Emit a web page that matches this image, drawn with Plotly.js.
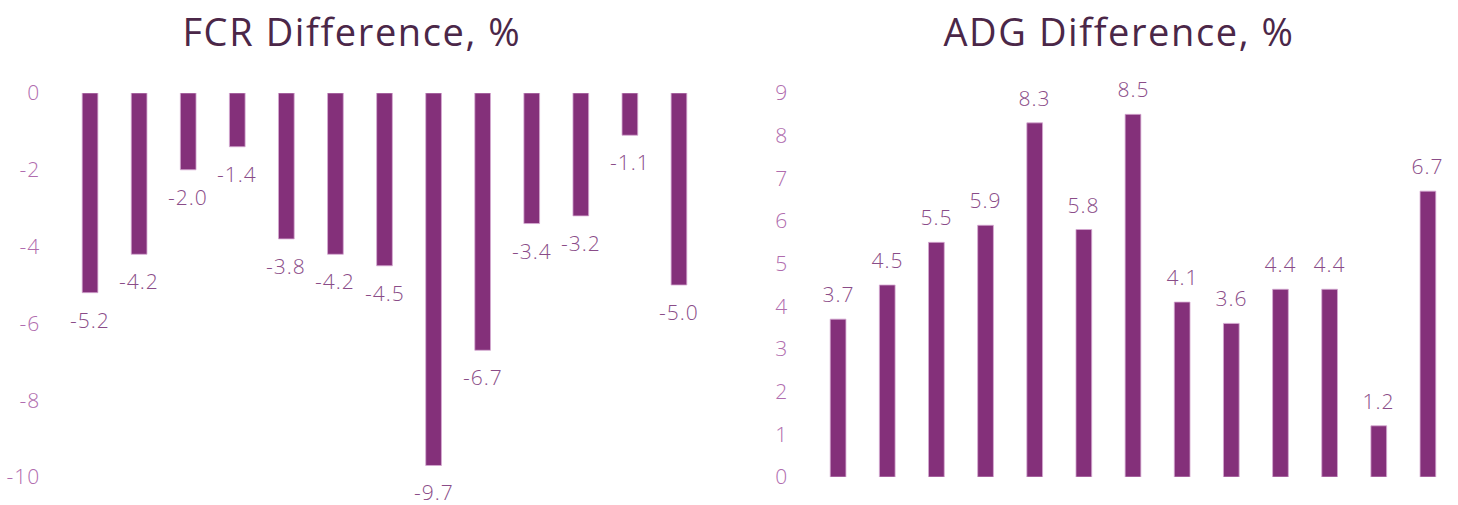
<!DOCTYPE html>
<html>
<head>
<meta charset="utf-8">
<script src="https://cdn.plot.ly/plotly-3.0.1.min.js"></script>
<style>
html,body{margin:0;padding:0;background:#fff;}
#chart{width:1458px;height:505px;}
#chart .ytick text, #chart .y2tick text, #chart .annotation-text{letter-spacing:1px;}
#chart .annotation.title-ann .annotation-text{letter-spacing:1.6px;}
</style>
</head>
<body>
<div id="chart"></div>
<script>
const categories = ["1","2","3","4","5","6","7","8","9","10","11","12","13"];
const fcrValues = [-5.2, -4.2, -2.0, -1.4, -3.8, -4.2, -4.5, -9.7, -6.7, -3.4, -3.2, -1.1, -5.0];
const adgValues = [3.7, 4.5, 5.5, 5.9, 8.3, 5.8, 8.5, 4.1, 3.6, 4.4, 4.4, 1.2, 6.7];
const fcrTicks = [0, -2, -4, -6, -8, -10];
const adgTicks = [0, 1, 2, 3, 4, 5, 6, 7, 8, 9];
const titles = ["FCR Difference, %", "ADG Difference, %"];

const W = 1458;
const PLOT_H = 384;
const barColor = "#84307a";
const barEdge = "#d6a9d2";
const tickColor = "#b06cae";
const labelColor = "#8a4c88";
const titleColor = "#4b2748";
const NUMFONT = "'Open Sans', Lato, sans-serif";
const TITLEFONT = "'Open Sans', Lato, sans-serif";

const traces = [
  {type: "bar", x: categories, y: fcrValues, xaxis: "x", yaxis: "y",
   marker: {color: barColor, line: {color: barEdge, width: 0.8}}, hoverinfo: "none"},
  {type: "bar", x: categories, y: adgValues, xaxis: "x2", yaxis: "y2",
   marker: {color: barColor, line: {color: barEdge, width: 0.8}}, hoverinfo: "none"}
];

const annotations = [];
fcrValues.forEach((v, i) => annotations.push({
  x: i, y: v, xref: "x", yref: "y", xanchor: "center", text: v.toFixed(1), showarrow: false,
  yshift: -27, font: {family: NUMFONT, size: 21, weight: 300, color: labelColor}
}));
adgValues.forEach((v, i) => annotations.push({
  x: i, y: v, xref: "x2", yref: "y2", xanchor: "center", text: v.toFixed(1), showarrow: false,
  yshift: 25, font: {family: NUMFONT, size: 21, weight: 300, color: labelColor}
}));
annotations.push({x: 352 / W, y: 1 + 62 / PLOT_H, xref: "paper", yref: "paper", xanchor: "center", yanchor: "middle",
  text: titles[0], showarrow: false, font: {family: TITLEFONT, size: 38, weight: 500, color: titleColor}});
annotations.push({x: 1119 / W, y: 1 + 62 / PLOT_H, xref: "paper", yref: "paper", xanchor: "center", yanchor: "middle",
  text: titles[1], showarrow: false, font: {family: TITLEFONT, size: 38, weight: 500, color: titleColor}});

const xCommon = {type: "category", showticklabels: false, showgrid: false, zeroline: false, showline: false,
  ticks: "", fixedrange: true, range: [-0.5, 12.5]};
const yCommon = {showgrid: false, zeroline: false, showline: false, ticks: "outside", ticklen: 20,
  tickcolor: "rgba(0,0,0,0)", tickfont: {family: NUMFONT, size: 21, weight: 300, color: tickColor}, automargin: false};

const layout = {
  width: 1458, height: 505,
  margin: {l: 0, r: 0, t: 93, b: 28},
  paper_bgcolor: "#ffffff", plot_bgcolor: "#ffffff",
  showlegend: false, bargap: 0.68,
  xaxis: Object.assign({}, xCommon, {domain: [65.5 / W, 703.5 / W], anchor: "y"}),
  yaxis: Object.assign({}, yCommon, {range: [-10, 0], tickvals: fcrTicks, ticktext: fcrTicks.map(String), anchor: "x"}),
  xaxis2: Object.assign({}, xCommon, {domain: [813.5 / W, 1452.5 / W], anchor: "y2"}),
  yaxis2: Object.assign({}, yCommon, {range: [0, 9], tickvals: adgTicks, ticktext: adgTicks.map(String), anchor: "x2"}),
  annotations: annotations
};

Plotly.newPlot("chart", traces, layout, {displayModeBar: false, staticPlot: true}).then(() => {
  const anns = document.querySelectorAll("#chart .annotation");
  const n = anns.length;
  [anns[n - 2], anns[n - 1]].forEach(a => a && a.classList.add("title-ann"));
});
</script>
</body>
</html>
